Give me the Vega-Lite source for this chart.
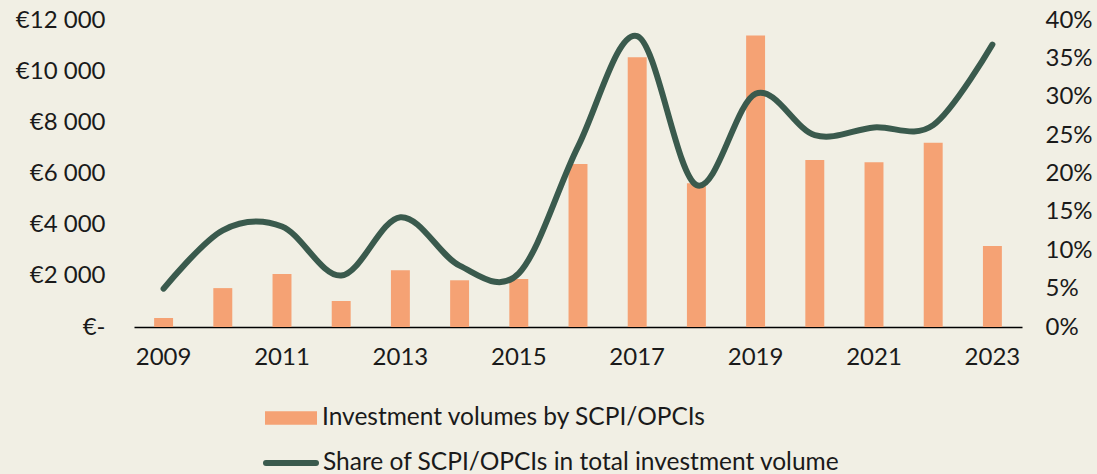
{
  "$schema": "https://vega.github.io/schema/vega-lite/v6.json",
  "width": 888,
  "height": 307,
  "autosize": {"type": "none"},
  "padding": {"left": 134, "top": 20, "right": 75, "bottom": 147},
  "background": "#f1efe4",
  "config": {
    "view": {"stroke": null},
    "font": "Lato",
    "axis": {"labelFont": "Lato", "labelFontSize": 24, "labelColor": "#1a1a1a", "grid": false, "ticks": false, "title": null},
    "legend": {"labelFont": "Lato", "labelFontSize": 24.5, "labelColor": "#1a1a1a", "padding": 0, "title": null, "labelLimit": 800}
  },
  "data": {
    "values": [
      {"year": 2009, "volume": 350, "share": 5.0},
      {"year": 2010, "volume": 1520, "share": 12.6},
      {"year": 2011, "volume": 2070, "share": 13.1},
      {"year": 2012, "volume": 1016, "share": 6.7},
      {"year": 2013, "volume": 2216, "share": 14.3},
      {"year": 2014, "volume": 1826, "share": 8.0},
      {"year": 2015, "volume": 1877, "share": 7.0},
      {"year": 2016, "volume": 6370, "share": 23.5},
      {"year": 2017, "volume": 10540, "share": 37.9},
      {"year": 2018, "volume": 5620, "share": 18.5},
      {"year": 2019, "volume": 11390, "share": 30.4},
      {"year": 2020, "volume": 6530, "share": 25.0},
      {"year": 2021, "volume": 6440, "share": 26.0},
      {"year": 2022, "volume": 7200, "share": 26.3},
      {"year": 2023, "volume": 3170, "share": 36.8}
    ]
  },
  "encoding": {
    "x": {
      "field": "year",
      "type": "ordinal",
      "scale": {"paddingInner": 0.68, "paddingOuter": 0.34},
      "axis": {
        "values": [2009, 2011, 2013, 2015, 2017, 2019, 2021, 2023],
        "labelAngle": 0,
        "domainColor": "#000000",
        "domainWidth": 1.5,
        "labelPadding": 18
      }
    }
  },
  "layer": [
    {
      "mark": {"type": "bar"},
      "encoding": {
        "y": {
          "field": "volume",
          "type": "quantitative",
          "scale": {"domain": [0, 12000]},
          "axis": {
            "orient": "left",
            "values": [0, 2000, 4000, 6000, 8000, 10000, 12000],
            "domain": false,
            "labelPadding": 29,
            "labelExpr": "datum.value == 0 ? '€-' : '€' + replace(format(datum.value, ',d'), ',', ' ')"
          }
        },
        "fill": {
          "datum": "Investment volumes by SCPI/OPCIs",
          "scale": {"range": ["#f5a274"]},
          "legend": {
            "orient": "none",
            "legendX": 131,
            "legendY": 372,
            "symbolType": "M-1,-0.26H1V0.26H-1Z",
            "symbolSize": 2704,
            "symbolStrokeWidth": 0,
            "symbolOpacity": 1,
            "labelOffset": 5
          }
        }
      }
    },
    {
      "mark": {"type": "line", "interpolate": "cardinal", "strokeWidth": 6, "strokeCap": "round"},
      "encoding": {
        "y": {
          "field": "share",
          "type": "quantitative",
          "scale": {"domain": [0, 40]},
          "axis": {
            "orient": "right",
            "values": [0, 5, 10, 15, 20, 25, 30, 35, 40],
            "domain": false,
            "labelPadding": 23,
            "labelExpr": "datum.value + '%'"
          }
        },
        "stroke": {
          "datum": "Share of SCPI/OPCIs in total investment volume",
          "scale": {"range": ["#3a5a4d"]},
          "legend": {
            "orient": "none",
            "legendX": 129,
            "legendY": 415,
            "symbolType": "stroke",
            "symbolSize": 2500,
            "symbolStrokeWidth": 6,
            "labelOffset": 4,
            "encode": {"symbols": {"update": {"strokeCap": {"value": "round"}}}}
          }
        }
      }
    }
  ],
  "resolve": {"scale": {"y": "independent", "fill": "independent", "stroke": "independent"}}
}
